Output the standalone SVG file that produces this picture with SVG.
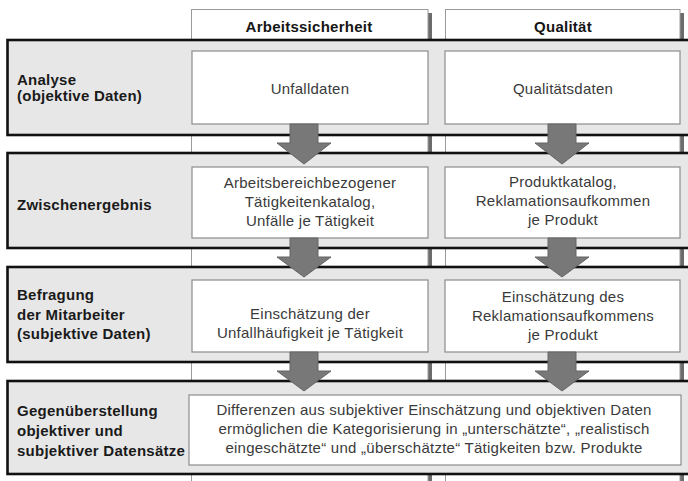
<svg xmlns="http://www.w3.org/2000/svg" width="688" height="481" viewBox="0 0 688 481">
  <style>
    .col { fill: #ffffff; stroke: #9a9a9a; stroke-width: 1; }
    .colshadow { fill: #6c6c6c; }
    .band { fill: #e7e7e7; stroke: #111111; stroke-width: 2.6; }
    .box { fill: #ffffff; stroke: #8c8c8c; stroke-width: 1.2; }
    .head { font-family: "Liberation Sans", Arial, sans-serif; font-size: 15px; font-weight: bold; fill: #151515; letter-spacing: 0.25px; }
    .lbl { font-family: "Liberation Sans", Arial, sans-serif; font-size: 15px; font-weight: bold; fill: #1a1a1a; letter-spacing: 0.25px; }
    .txt { font-family: "Liberation Sans", Arial, sans-serif; font-size: 15px; fill: #3a3a3a; letter-spacing: 0.25px; text-anchor: middle; }
    .arrow { fill: #787878; stroke: #646464; stroke-width: 1; }
  </style>

  <rect width="688" height="481" fill="#ffffff"/>

  <!-- column headers and lanes -->
  <g id="col-arbeitssicherheit">
    <rect class="colshadow" x="428" y="13" width="4" height="480"/>
    <rect class="col" x="191.5" y="9.5" width="236.5" height="480"/>
    <text class="head" x="309" y="32" text-anchor="middle">Arbeitssicherheit</text>
  </g>
  <g id="col-qualitaet">
    <rect class="colshadow" x="680" y="13" width="4" height="480"/>
    <rect class="col" x="445.5" y="9.5" width="234.5" height="480"/>
    <text class="head" x="563" y="32" text-anchor="middle">Qualität</text>
  </g>

  <!-- row 1 -->
  <g id="row-analyse">
    <rect class="band" x="7.5" y="40" width="700" height="95"/>
    <text class="lbl" x="17" y="85">Analyse</text>
    <text class="lbl" x="17" y="101">(objektive Daten)</text>
    <rect class="box" x="192" y="51" width="236" height="73"/>
    <text class="txt" x="310" y="94">Unfalldaten</text>
    <rect class="box" x="445" y="51" width="235" height="73"/>
    <text class="txt" x="563" y="94">Qualitätsdaten</text>
  </g>

  <!-- row 2 -->
  <g id="row-zwischenergebnis">
    <rect class="band" x="7.5" y="153" width="700" height="95"/>
    <text class="lbl" x="17" y="210">Zwischenergebnis</text>
    <rect class="box" x="192" y="167" width="236" height="71"/>
    <text class="txt" x="310" y="188">Arbeitsbereichbezogener</text>
    <text class="txt" x="310" y="207">Tätigkeitenkatalog,</text>
    <text class="txt" x="310" y="226">Unfälle je Tätigkeit</text>
    <rect class="box" x="445" y="167" width="235" height="71"/>
    <text class="txt" x="563" y="187">Produktkatalog,</text>
    <text class="txt" x="563" y="206">Reklamationsaufkommen</text>
    <text class="txt" x="563" y="225">je Produkt</text>
  </g>

  <!-- row 3 -->
  <g id="row-befragung">
    <rect class="band" x="7.5" y="267" width="700" height="95"/>
    <text class="lbl" x="17" y="300">Befragung</text>
    <text class="lbl" x="17" y="320">der Mitarbeiter</text>
    <text class="lbl" x="17" y="339">(subjektive Daten)</text>
    <rect class="box" x="192" y="280" width="236" height="72"/>
    <text class="txt" x="310" y="319">Einschätzung der</text>
    <text class="txt" x="310" y="338">Unfallhäufigkeit je Tätigkeit</text>
    <rect class="box" x="445" y="280" width="235" height="72"/>
    <text class="txt" x="563" y="302">Einschätzung des</text>
    <text class="txt" x="563" y="321">Reklamationsaufkommens</text>
    <text class="txt" x="563" y="340">je Produkt</text>
  </g>

  <!-- row 4 -->
  <g id="row-gegenueberstellung">
    <rect class="band" x="7.5" y="381" width="700" height="93"/>
    <text class="lbl" x="17" y="416">Gegenüberstellung</text>
    <text class="lbl" x="17" y="436">objektiver und</text>
    <text class="lbl" x="17" y="456">subjektiver Datensätze</text>
    <rect class="box" x="189" y="395" width="492" height="70"/>
    <text class="txt" x="434" y="415">Differenzen aus subjektiver Einschätzung und objektiven Daten</text>
    <text class="txt" x="434" y="434">ermöglichen die Kategorisierung in „unterschätzte“, „realistisch</text>
    <text class="txt" x="434" y="453">eingeschätzte“ und „überschätzte“ Tätigkeiten bzw. Produkte</text>
  </g>

  <!-- flow arrows between rows -->
  <g id="connectors">
    <polygon class="arrow" points="290,124 318,124 318,143 331,143 304,164 277,143 290,143"/>
    <polygon class="arrow" points="548,124 576,124 576,143 589,143 562,164 535,143 548,143"/>
    <polygon class="arrow" points="290,238 318,238 318,257 331,257 304,277 277,257 290,257"/>
    <polygon class="arrow" points="548,238 576,238 576,257 589,257 562,277 535,257 548,257"/>
    <polygon class="arrow" points="290,352 318,352 318,371 331,371 304,391 277,371 290,371"/>
    <polygon class="arrow" points="548,352 576,352 576,371 589,371 562,391 535,371 548,371"/>
  </g>
</svg>
